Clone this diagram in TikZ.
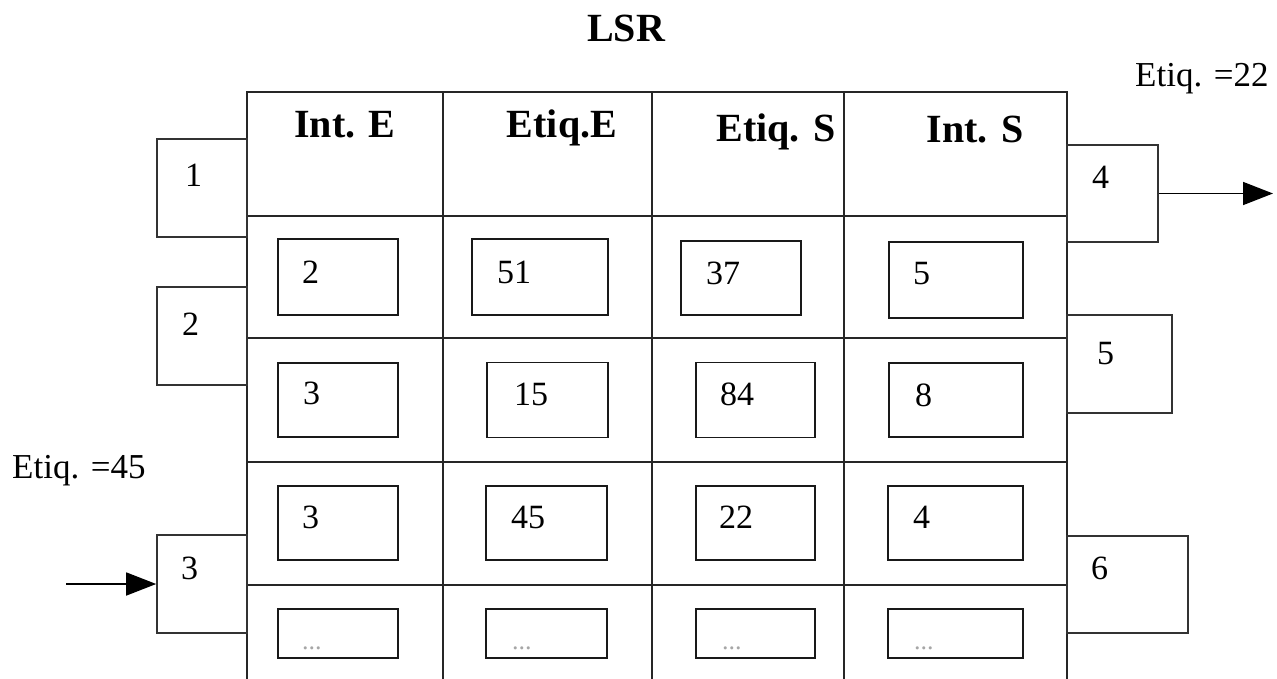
\documentclass[tikz,border=0pt]{standalone}
\usepackage{fontspec}
\setmainfont{Liberation Serif}
\usetikzlibrary{arrows.meta}
\tikzset{
  tline/.style={line width=1.6pt, draw=black!85},
  cellbox/.style={draw=black!90, line width=1.6pt, rectangle, inner sep=0pt},
  portbox/.style={draw=black!80, line width=1.6pt, rectangle, inner sep=0pt},
  num/.style={anchor=base west, inner sep=0pt, font=\fontsize{34}{40}\selectfont},
  dots/.style={anchor=base west, inner sep=0pt, text=black!35, font=\fontsize{26}{30}\selectfont},
  hdr/.style={anchor=base, inner sep=0pt, font=\fontsize{40}{46}\selectfont\bfseries},
  lbl/.style={anchor=base west, inner sep=0pt, font=\fontsize{35}{40}\selectfont},
  flow/.style={line width=1.6pt, -{Triangle[length=30pt,width=23pt]}}
}
\begin{document}
\begin{tikzpicture}[x=1pt,y=-1pt]
\useasboundingbox (0,0) rectangle (1277,679);

% table grid (the last row runs past the lower edge)
\draw[tline] (247,679) -- (247,92) -- (1067,92) -- (1067,679);
\foreach \cx in {443,652,844} \draw[tline] (\cx,92) -- (\cx,679);
\foreach \ry in {216,338,462,585} \draw[tline] (247,\ry) -- (1067,\ry);

% column headers
\node[hdr] (hIE) at (345,138) {Int. E};
\node[hdr] (hEE) at (562,138) {Etiq.E};
\node[hdr] (hES) at (776,142) {Etiq. S};
\node[hdr] (hIS) at (975,143) {Int. S};

% title
\node[hdr] (title) at (626,42) {LSR};

% entry boxes, row 1
\node[cellbox, minimum width=120, minimum height=76] (b11) at (338,277) {};
\node[cellbox, minimum width=136, minimum height=76] (b12) at (540,277) {};
\node[cellbox, minimum width=120, minimum height=74] (b13) at (741,278) {};
\node[cellbox, minimum width=134, minimum height=76] (b14) at (956,280) {};
% row 2
\node[cellbox, minimum width=120, minimum height=74] (b21) at (338,400) {};
\node[cellbox, minimum width=121, minimum height=75] (b22) at (547.5,400) {};
\node[cellbox, minimum width=119, minimum height=75] (b23) at (755.5,400) {};
\node[cellbox, minimum width=134, minimum height=74] (b24) at (956,400) {};
% row 3
\node[cellbox, minimum width=120, minimum height=74] (b31) at (338,523) {};
\node[cellbox, minimum width=121, minimum height=74] (b32) at (546.5,523) {};
\node[cellbox, minimum width=119, minimum height=74] (b33) at (755.5,523) {};
\node[cellbox, minimum width=135, minimum height=74] (b34) at (955.5,523) {};
% row 4
\node[cellbox, minimum width=120, minimum height=49] (b41) at (338,633.5) {};
\node[cellbox, minimum width=121, minimum height=49] (b42) at (546.5,633.5) {};
\node[cellbox, minimum width=119, minimum height=49] (b43) at (755.5,633.5) {};
\node[cellbox, minimum width=135, minimum height=49] (b44) at (955.5,633.5) {};

% entry values
\node[num] (t11) at (302,283) {2};
\node[num] (t12) at (497,283) {51};
\node[num] (t13) at (706,284) {37};
\node[num] (t14) at (913,284) {5};
\node[num] (t21) at (303,404) {3};
\node[num] (t22) at (514,405) {15};
\node[num] (t23) at (720,405) {84};
\node[num] (t24) at (915,406) {8};
\node[num] (t31) at (302,528) {3};
\node[num] (t32) at (511,528) {45};
\node[num] (t33) at (719,528) {22};
\node[num] (t34) at (913,528) {4};
\node[dots] (t41) at (302,649) {...};
\node[dots] (t42) at (512,649) {...};
\node[dots] (t43) at (722,649) {...};
\node[dots] (t44) at (914,649) {...};

% interfaces
\node[portbox, minimum width=90, minimum height=98] (p1) at (202,188) {};
\node[portbox, minimum width=90, minimum height=98] (p2) at (202,336) {};
\node[portbox, minimum width=90, minimum height=98] (p3) at (202,584) {};
\node[portbox, minimum width=91, minimum height=97] (p4) at (1112.5,193.5) {};
\node[portbox, minimum width=105, minimum height=98] (p5) at (1119.5,364) {};
\node[portbox, minimum width=121, minimum height=97] (p6) at (1127.5,584.5) {};
\node[num] (n1) at (185,187) {1};
\node[num] (n2) at (182,335) {2};
\node[num] (n3) at (181,579) {3};
\node[num] (n4) at (1092,189) {4};
\node[num] (n5) at (1097,364) {5};
\node[num] (n6) at (1091,579) {6};

% incoming and outgoing packets
\node[lbl] (lin) at (12,478) {Etiq. =45};
\node[lbl] (lout) at (1135,87) {Etiq. =22};
\coordinate (src) at (66,584);
\coordinate (dst) at (1273,193.5);
\draw[flow] (src) -- (p3.west);
\draw[flow] (p4.east) -- (dst);
\end{tikzpicture}
\end{document}
